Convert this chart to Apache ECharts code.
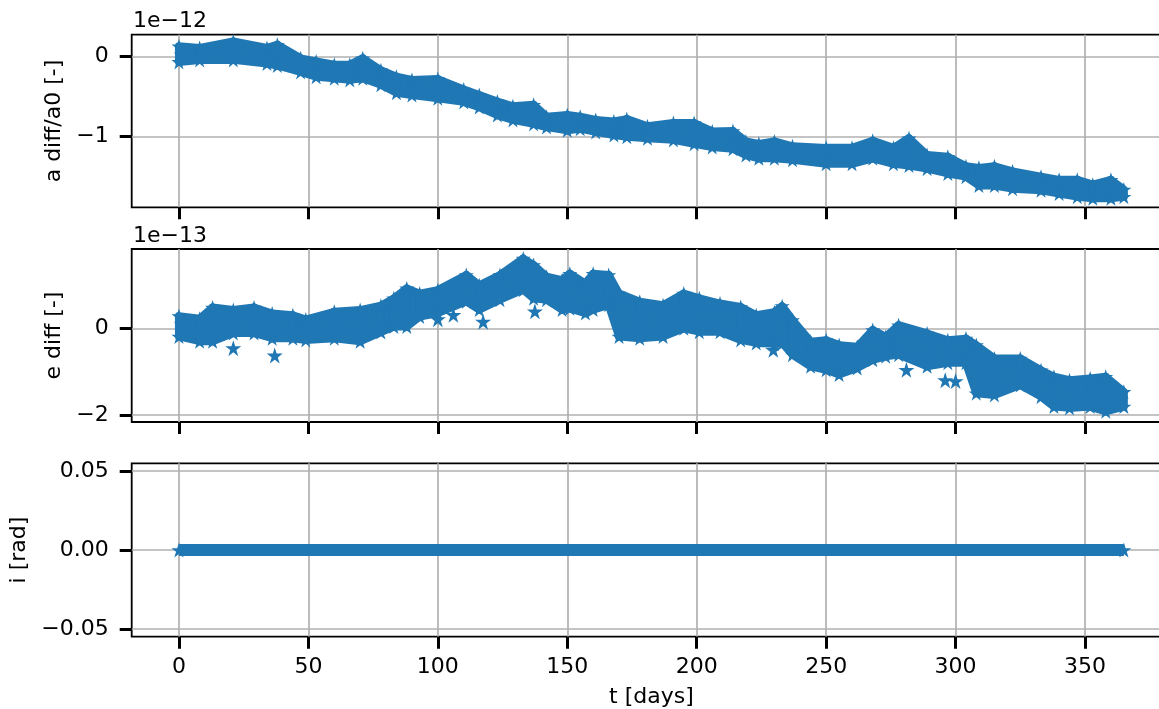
<!DOCTYPE html>
<html><head><meta charset="utf-8">
<script src="https://cdn.jsdelivr.net/npm/echarts@6/dist/echarts.min.js"></script>
<style>html,body{margin:0;padding:0;background:#fff}#c{width:1159px;height:709px}</style>
</head><body><div id="c"></div>
<script>
// ---------- data ----------
const X_TICKS = [0, 50, 100, 150, 200, 250, 300, 350];
const A_TICKS = [-1, 0];          // in units of 1e-12
const E_TICKS = [-2, 0];          // in units of 1e-13
const I_TICKS = [-0.05, 0, 0.05]; // rad
const A_SCALE = '1e\u221212';
const E_SCALE = '1e\u221213';

// a diff / a0 [-] (x1e-12): upper / lower envelope of the marker cloud
const aDays = [0, 8, 21, 34, 38, 47, 53, 60, 66, 71, 78, 84, 90, 100, 110, 116, 123, 129, 137, 142, 150, 155, 161, 168, 173, 181, 191, 199, 206, 214, 219, 224, 230, 237, 250, 260, 268, 276, 282, 289, 297, 304, 309, 315, 322, 333, 340, 347, 353, 360, 365];
const aHigh = [0.13, 0.11, 0.19, 0.11, 0.15, -0.02, -0.06, -0.10, -0.10, -0.02, -0.17, -0.25, -0.29, -0.28, -0.41, -0.48, -0.56, -0.62, -0.60, -0.75, -0.73, -0.75, -0.79, -0.81, -0.78, -0.87, -0.83, -0.83, -0.935, -0.93, -1.06, -1.09, -1.06, -1.12, -1.14, -1.14, -1.05, -1.14, -1.02, -1.23, -1.25, -1.37, -1.39, -1.37, -1.435, -1.50, -1.54, -1.54, -1.60, -1.54, -1.66];
const aLow  = [-0.065, -0.04, -0.04, -0.085, -0.11, -0.19, -0.25, -0.27, -0.29, -0.27, -0.35, -0.45, -0.48, -0.52, -0.565, -0.63, -0.73, -0.79, -0.84, -0.88, -0.92, -0.90, -0.94, -0.98, -1.00, -1.02, -1.04, -1.09, -1.13, -1.15, -1.23, -1.27, -1.27, -1.29, -1.34, -1.34, -1.27, -1.34, -1.36, -1.40, -1.46, -1.50, -1.61, -1.61, -1.65, -1.67, -1.71, -1.75, -1.77, -1.77, -1.75];

// e diff [-] (x1e-13)
const eDays = [0, 8, 13, 21, 29, 36, 44, 49, 60, 70, 78, 83, 88, 93, 100, 111, 116, 124, 133, 137, 142, 148, 151, 157, 160, 166, 170, 178, 187, 195, 201, 209, 217, 223, 230, 233, 237, 244, 250, 255, 262, 268, 273, 278, 289, 297, 304, 308, 315, 325, 333, 338, 344, 352, 358, 365];
const eHigh = [0.29, 0.23, 0.49, 0.43, 0.49, 0.35, 0.31, 0.21, 0.39, 0.43, 0.53, 0.70, 0.93, 0.81, 0.89, 1.24, 1.00, 1.24, 1.62, 1.47, 1.20, 1.12, 1.27, 1.04, 1.27, 1.24, 0.81, 0.62, 0.54, 0.81, 0.70, 0.58, 0.50, 0.31, 0.38, 0.52, 0.20, -0.30, -0.27, -0.38, -0.42, -0.03, -0.19, 0.08, -0.11, -0.27, -0.23, -0.38, -0.69, -0.69, -0.96, -1.11, -1.19, -1.15, -1.11, -1.46];
const eLow  = [-0.18, -0.29, -0.29, -0.10, -0.10, -0.22, -0.22, -0.26, -0.22, -0.29, -0.08, 0.05, 0.05, 0.28, 0.36, 0.63, 0.44, 0.67, 0.90, 0.70, 0.67, 0.44, 0.47, 0.36, 0.44, 0.55, -0.18, -0.22, -0.18, 0.01, -0.07, -0.07, -0.26, -0.33, -0.35, -0.33, -0.60, -0.87, -0.95, -1.06, -0.91, -0.72, -0.64, -0.60, -0.87, -0.79, -0.79, -1.49, -1.53, -1.30, -1.57, -1.80, -1.83, -1.80, -1.91, -1.80];
// isolated markers below the e band
const eStrayDays = [21, 37, 100, 106, 117.5, 137.5, 229.6, 281, 296, 300];
const eStrayVals = [-0.45, -0.62, 0.22, 0.32, 0.16, 0.40, -0.49, -0.95, -1.19, -1.21];

// i [rad]
const iDays = [0, 365];
const iVals = [0, 0];

// ---------- chart ----------
const BLUE = '#1f77b4';
const FONT = 'DejaVu Sans';
const FS = 22;
const STAR = 'path://M0,-50 L11.2,-15.5 L47.6,-15.5 L18.2,5.9 L29.4,40.5 L0,19.1 L-29.4,40.5 L-18.2,5.9 L-47.6,-15.5 L-11.2,-15.5 Z';
const X_MIN = -18.25, X_MAX = 383.25;

function segs(days, lo, hi) {
  const out = [];
  for (let k = 0; k < days.length - 1; k++) out.push([days[k], lo[k], hi[k], days[k + 1], lo[k + 1], hi[k + 1]]);
  return out;
}
function pts(days, v) { return days.map((d, k) => [d, v[k]]); }
function minus(s) { return String(s).replace('-', '\u2212'); }

function bandItem(params, api) {
  const p1 = api.coord([api.value(0), api.value(2)]);
  const p2 = api.coord([api.value(3), api.value(5)]);
  const p3 = api.coord([api.value(3), api.value(4)]);
  const p4 = api.coord([api.value(0), api.value(1)]);
  return { type: 'polygon', shape: { points: [p1, p2, p3, p4] },
    style: { fill: BLUE, stroke: BLUE, lineWidth: 8, lineJoin: 'round' } };
}

const gridBase = { show: true, borderColor: '#000', borderWidth: 1.8, backgroundColor: 'transparent', containLabel: false, outerBoundsMode: 'none' };
const grids = [
  Object.assign({ left: 131.7, top: 34.7, width: 1039.4, height: 172.6 }, gridBase),
  Object.assign({ left: 131.7, top: 249, width: 1039.4, height: 173 }, gridBase),
  Object.assign({ left: 131.7, top: 463.3, width: 1039.4, height: 173.4 }, gridBase)
];

function xAxis(idx) {
  return {
    gridIndex: idx, type: 'value', min: X_MIN, max: X_MAX,
    name: idx === 2 ? 't [days]' : '', nameLocation: 'middle', nameGap: 50,
    nameTextStyle: { fontFamily: FONT, fontSize: FS, color: '#000' },
    axisLine: { show: false, onZero: false },
    axisTick: { show: true, inside: false, length: 12, lineStyle: { color: '#000', width: 3 }, customValues: X_TICKS },
    axisLabel: { show: idx === 2, customValues: X_TICKS, fontFamily: FONT, fontSize: FS, color: '#000', margin: 20 },
    splitLine: { show: true, lineStyle: { color: '#b0b0b0', width: 1.7 } }
  };
}
function yAxis(idx, min, max, ticks, fmt, name, gap) {
  return {
    gridIndex: idx, type: 'value', min: min, max: max,
    name: name, nameLocation: 'middle', nameGap: gap,
    nameTextStyle: { fontFamily: FONT, fontSize: FS, color: '#000' },
    axisLine: { show: false, onZero: false },
    axisTick: { show: true, inside: false, length: 12, lineStyle: { color: '#000', width: 3 }, customValues: ticks },
    axisLabel: { show: true, customValues: ticks, formatter: fmt, fontFamily: FONT, fontSize: FS, color: '#000', margin: 23 },
    splitLine: { show: true, lineStyle: { color: '#b0b0b0', width: 1.7 } }
  };
}

const starStyle = { color: BLUE, opacity: 1 };
function starSeries(ax, data, size) {
  return { type: 'scatter', xAxisIndex: ax, yAxisIndex: ax, data: data, symbol: STAR, symbolSize: size,
    itemStyle: starStyle, z: 3, silent: true };
}
const option = {
  animation: false,
  backgroundColor: '#fff',
  textStyle: { fontFamily: FONT, color: '#000' },
  grid: grids,
  xAxis: [xAxis(0), xAxis(1), xAxis(2)],
  yAxis: [
    yAxis(0, -1.883, 0.275, A_TICKS, v => minus(v), 'a diff/a0 [-]', 62),
    yAxis(1, -2.156, 1.84, E_TICKS, v => minus(v), 'e diff [-]', 62),
    yAxis(2, -0.055, 0.055, I_TICKS, v => minus(v.toFixed(2)), 'i [rad]', 98)
  ],
  graphic: [
    { type: 'text', left: 133, top: 10, style: { text: A_SCALE, font: FS + 'px "DejaVu Sans"', fill: '#000' } },
    { type: 'text', left: 133, top: 225, style: { text: E_SCALE, font: FS + 'px "DejaVu Sans"', fill: '#000' } }
  ],
  series: [
    { type: 'custom', xAxisIndex: 0, yAxisIndex: 0, renderItem: bandItem, data: segs(aDays, aLow, aHigh),
      encode: { x: [0, 3], y: [1, 2, 4, 5] }, z: 2, silent: true },
    starSeries(0, pts(aDays, aHigh), 15),
    starSeries(0, pts(aDays, aLow), 15),

    { type: 'custom', xAxisIndex: 1, yAxisIndex: 1, renderItem: bandItem, data: segs(eDays, eLow, eHigh),
      encode: { x: [0, 3], y: [1, 2, 4, 5] }, z: 2, silent: true },
    starSeries(1, pts(eDays, eHigh), 15),
    starSeries(1, pts(eDays, eLow), 15),
    starSeries(1, pts(eStrayDays, eStrayVals), 16),

    { type: 'line', xAxisIndex: 2, yAxisIndex: 2, data: pts(iDays, iVals), showSymbol: true, symbol: STAR, symbolSize: 15,
      lineStyle: { color: BLUE, width: 12, cap: 'butt' }, itemStyle: starStyle, z: 3, silent: true }
  ]
};
const chart = echarts.init(document.getElementById('c'), null, { renderer: 'canvas' });
chart.setOption(option);
</script></body></html>
